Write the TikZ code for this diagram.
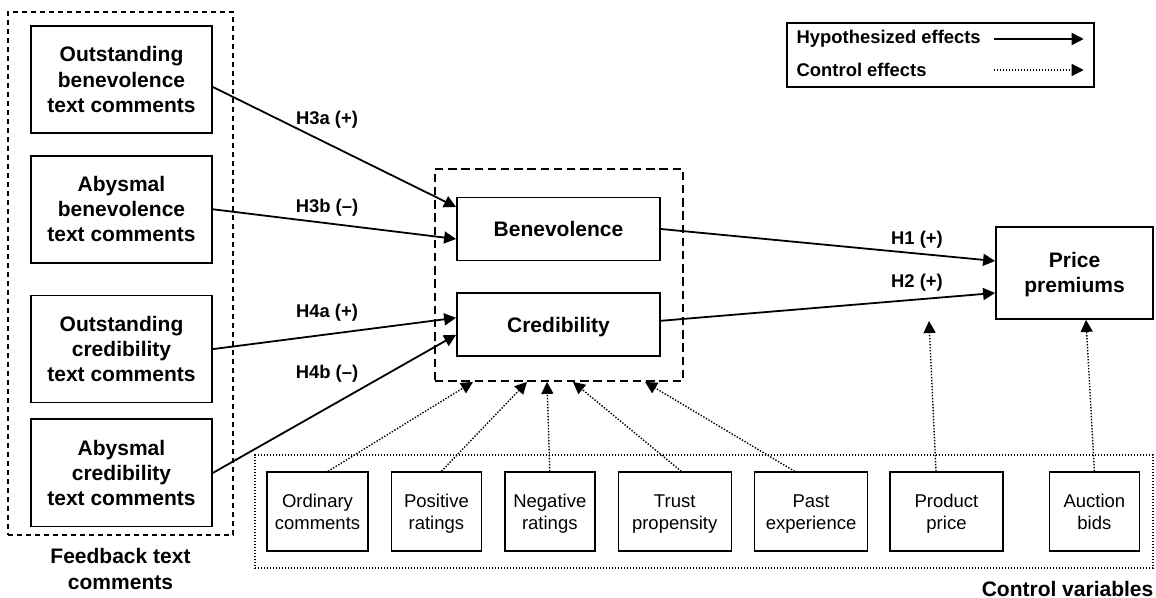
\documentclass[tikz,border=0pt]{standalone}
\usepackage{fontspec}
\setmainfont{Liberation Sans}
\usetikzlibrary{arrows.meta,positioning}
\tikzset{
  hypothesized flow/.style={-{Triangle[length=6pt,width=6pt]}, draw=black, line width=0.9pt},
  control flow/.style={-{Triangle[length=6pt,width=6pt]}, draw=black, line width=0.7pt,
    dash pattern=on 0.7pt off 0.8pt},
  feedback group/.style={draw, line width=0.9pt, dash pattern=on 2.6pt off 1.9pt},
  construct group/.style={draw, line width=0.9pt, dash pattern=on 4.2pt off 2.4pt},
  control group/.style={draw, line width=0.7pt, dash pattern=on 0.7pt off 0.8pt},
  legend box/.style={draw, line width=0.7pt},
  feedback box/.style={draw, line width=0.9pt, align=center, inner sep=0pt,
    minimum width=90.5pt, minimum height=53.5pt,
    font=\bfseries\fontsize{10.5}{12.5}\selectfont},
  construct box/.style={draw, line width=0.9pt, align=center, inner sep=0pt,
    minimum width=101.5pt, minimum height=31.5pt,
    font=\bfseries\fontsize{10.5}{12.5}\selectfont},
  control box/.style={draw, line width=0.7pt, align=center, inner sep=0pt,
    minimum height=39.5pt, text height=17.8pt, text depth=0pt,
    font=\fontsize{9.25}{11}\selectfont},
  effect label/.style={font=\bfseries\fontsize{9.2}{10.5}\selectfont, inner sep=0pt},
  group title/.style={font=\bfseries\fontsize{10.5}{13}\selectfont, align=center, inner sep=0pt},
}

\begin{document}
\begin{tikzpicture}[x=0.5pt, y=-0.5pt, node distance=11pt]
  \useasboundingbox (0,0) rectangle (1156,598);

  % Feedback text comments.
  \node[feedback group, minimum width=112.5pt, minimum height=261.5pt] (feedback) at (120.5,273.5) {};
  \node[feedback box] (outBen) at (121.5,79.5) {Outstanding\\benevolence\\text comments};
  \node[feedback box, below=10.5pt of outBen] (abyBen) {Abysmal\\benevolence\\text comments};
  \node[feedback box, below=15.5pt of abyBen] (outCred) {Outstanding\\credibility\\text comments};
  \node[feedback box, below=7.5pt of outCred] (abyCred) {Abysmal\\credibility\\text comments};
  \node[group title, below=6pt of feedback] (feedbackTitle) {Feedback text\\comments};

  % Trust constructs and outcome.
  \node[construct group, minimum width=124pt, minimum height=106pt] (constructs) at (559,275) {};
  \node[construct box] (benevolence) at (558.5,229) {Benevolence};
  \node[construct box, text depth=0pt, below=15.5pt of benevolence] (credibility) {Credibility};
  \node[construct box, minimum width=78.5pt, minimum height=46pt, text height=20pt, text depth=0pt]
    (premiums) at (1074.5,273) {Price\\premiums};

  % Legend.
  \node[legend box, minimum width=153.5pt, minimum height=32pt] (legend) at (940.5,55) {};
  \node[effect label, anchor=west] (legendHyp) at ([xshift=5pt,yshift=8pt]legend.west) {Hypothesized effects};
  \node[effect label, anchor=west] (legendCtrl) at ([xshift=5pt,yshift=-7.5pt]legend.west) {Control effects};
  \coordinate (hypStart) at ([xshift=-50.5pt,yshift=8pt]legend.east);
  \coordinate (hypEnd) at ([xshift=-5.5pt,yshift=8pt]legend.east);
  \coordinate (ctrlStart) at ([xshift=-50.5pt,yshift=-7.5pt]legend.east);
  \coordinate (ctrlEnd) at ([xshift=-5.5pt,yshift=-7.5pt]legend.east);
  \draw[hypothesized flow] (hypStart) -- (hypEnd);
  \draw[control flow] (ctrlStart) -- (ctrlEnd);

  % Control variables.
  \node[control group, minimum width=449pt, minimum height=56.5pt] (controls) at (704,511.5) {};
  \node[control box, minimum width=50.5pt] (ordinary) at (317.5,511.5) {Ordinary\\comments};
  \node[control box, minimum width=45pt, right=of ordinary] (positive) {Positive\\ratings};
  \node[control box, minimum width=45pt, right=of positive] (negative) {Negative\\ratings};
  \node[control box, minimum width=56.5pt, right=of negative] (trust) {Trust\\propensity};
  \node[control box, minimum width=56.5pt, right=of trust] (past) {Past\\experience};
  \node[control box, minimum width=56.5pt, right=10.5pt of past] (product) {Product\\price};
  \node[control box, minimum width=45pt, right=22.5pt of product] (auction) {Auction\\bids};
  \node[group title, anchor=north east] (controlsTitle) at ([yshift=-6pt]controls.south east) {Control variables};

  % Hypothesized effects.
  \draw[hypothesized flow] ([yshift=-3.75pt]outBen.east) -- ([yshift=11pt]benevolence.west);
  \draw[hypothesized flow] (abyBen.east) -- ([yshift=-5pt]benevolence.west);
  \draw[hypothesized flow] (outCred.east) -- ([yshift=3.5pt]credibility.west);
  \draw[hypothesized flow] (abyCred.east) -- ([yshift=-5pt]credibility.west);
  \draw[hypothesized flow] (benevolence.east) -- ([yshift=6pt]premiums.west);
  \draw[hypothesized flow] ([yshift=2pt]credibility.east) -- ([yshift=-10pt]premiums.west);

  \node[effect label] (labH3a) at (327,120) {H3a (+)};
  \node[effect label] (labH3b) at (327,208) {H3b (--)};
  \node[effect label] (labH4a) at (327,313) {H4a (+)};
  \node[effect label] (labH4b) at (327,374) {H4b (--)};
  \node[effect label] (labH1) at (917,240) {H1 (+)};
  \node[effect label] (labH2) at (917,283) {H2 (+)};

  % Control effects.
  \coordinate (productTip) at (929,321);
  \draw[control flow] ([xshift=5.25pt]ordinary.north) -- ([xshift=-43pt]constructs.south);
  \draw[control flow] ([xshift=2.5pt]positive.north) -- ([xshift=-16pt]constructs.south);
  \draw[control flow] (negative.north) -- ([xshift=-6pt]constructs.south);
  \draw[control flow] ([xshift=3.25pt]trust.north) -- ([xshift=7pt]constructs.south);
  \draw[control flow] ([xshift=-8.25pt]past.north) -- ([xshift=43pt]constructs.south);
  \draw[control flow] ([xshift=-5.25pt]product.north) -- (productTip);
  \draw[control flow] (auction.north) -- ([xshift=5.75pt]premiums.south);
\end{tikzpicture}
\end{document}
